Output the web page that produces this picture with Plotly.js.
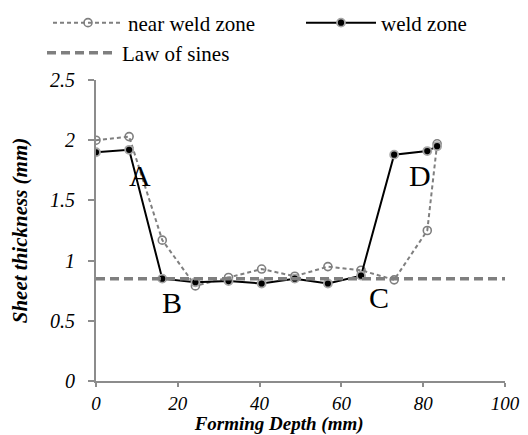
<!DOCTYPE html>
<html>
<head>
<meta charset="utf-8">
<script src="https://cdn.plot.ly/plotly-3.0.1.min.js"></script>
<style>html,body{margin:0;padding:0;background:#fff;}#chart{width:528px;height:435px;}</style>
</head>
<body>
<div id="chart"></div>
<script>
// Forming depth (mm)
var depth = [0, 8.1, 16.2, 24.3, 32.4, 40.5, 48.6, 56.7, 64.8, 72.9, 81, 83.4];
// Sheet thickness (mm)
var nearWeld = [2.00, 2.03, 1.17, 0.79, 0.86, 0.93, 0.87, 0.95, 0.92, 0.84, 1.25, 1.97];
var weld     = [1.90, 1.92, 0.85, 0.82, 0.83, 0.81, 0.85, 0.81, 0.875, 1.88, 1.91, 1.95];
// Law of sines thickness
var sinesX = [0, 100];
var sinesY = [0.85, 0.85];
// Point labels
var labelText = ['A', 'B', 'C', 'D'];
var labelX = [10.8, 18.6, 69.3, 79.3];
var labelY = [1.71, 0.65, 0.69, 1.71];

var serif = '"Liberation Serif", "Times New Roman", serif';
var gray = '#7f7f7f';

var traces = [
  {
    x: depth, y: nearWeld, name: 'near weld zone', mode: 'lines+markers', type: 'scatter', legend: 'legend',
    line: {color: gray, width: 2, dash: '4px,3px'},
    marker: {symbol: 'circle-open', size: 8, color: gray, line: {color: gray, width: 1.6}}
  },
  {
    x: depth, y: weld, name: 'weld zone', mode: 'lines+markers', type: 'scatter', legend: 'legend2',
    line: {color: '#000', width: 2},
    marker: {symbol: 'circle', size: 8, color: '#000', line: {color: '#a6a6a6', width: 1.8}}
  },
  {
    x: sinesX, y: sinesY, name: 'Law of sines', mode: 'lines', type: 'scatter', legend: 'legend3',
    line: {color: gray, width: 3.5, dash: '9px,5px'}
  }
];

var annotations = labelText.map(function (t, i) {
  return {x: labelX[i], y: labelY[i], xref: 'x', yref: 'y', text: t, showarrow: false,
    font: {family: serif, size: 30, color: '#000'}};
});

function legendAt(px, py) {
  return {
    orientation: 'h', xref: 'container', yref: 'container', x: px / 528, y: 1 - py / 435,
    xanchor: 'left', yanchor: 'middle', itemwidth: 70,
    font: {family: serif, size: 21, color: '#000'}, bgcolor: 'rgba(0,0,0,0)'
  };
}

var layout = {
  width: 528, height: 435,
  margin: {l: 96, r: 23, t: 80, b: 54},
  paper_bgcolor: '#fff', plot_bgcolor: '#fff',
  showlegend: true,
  legend: legendAt(48, 23),
  legend2: legendAt(301, 23),
  legend3: legendAt(42, 53),
  xaxis: {
    range: [0, 100], dtick: 20, tick0: 0, showgrid: false, zeroline: false,
    showline: true, linecolor: '#8c8c8c', linewidth: 2,
    ticks: 'outside', ticklen: 4, tickcolor: '#8c8c8c', tickwidth: 2,
    tickfont: {family: serif, size: 19, color: '#000', style: 'italic'},
    title: {text: '<b><i>Forming Depth (mm)</i></b>&nbsp;&nbsp;&nbsp;&nbsp;&nbsp;&nbsp;&nbsp;&nbsp;&nbsp;', font: {family: serif, size: 19, color: '#000'}, standoff: 8},
    automargin: false
  },
  yaxis: {
    range: [0, 2.5], dtick: 0.5, tick0: 0, showgrid: false, zeroline: false,
    showline: true, linecolor: '#8c8c8c', linewidth: 2,
    ticks: 'outside', ticklen: 6, tickcolor: '#8c8c8c', tickwidth: 2, ticklabelstandoff: 9,
    tickfont: {family: serif, size: 20, color: '#000', style: 'italic'},
    title: {text: '<b><i>Sheet thickness (mm)</i></b>', font: {family: serif, size: 21, color: '#000'}, standoff: 17},
    automargin: false
  },
  annotations: annotations
};

Plotly.newPlot('chart', traces, layout, {displayModeBar: false, staticPlot: true});
</script>
</body>
</html>
